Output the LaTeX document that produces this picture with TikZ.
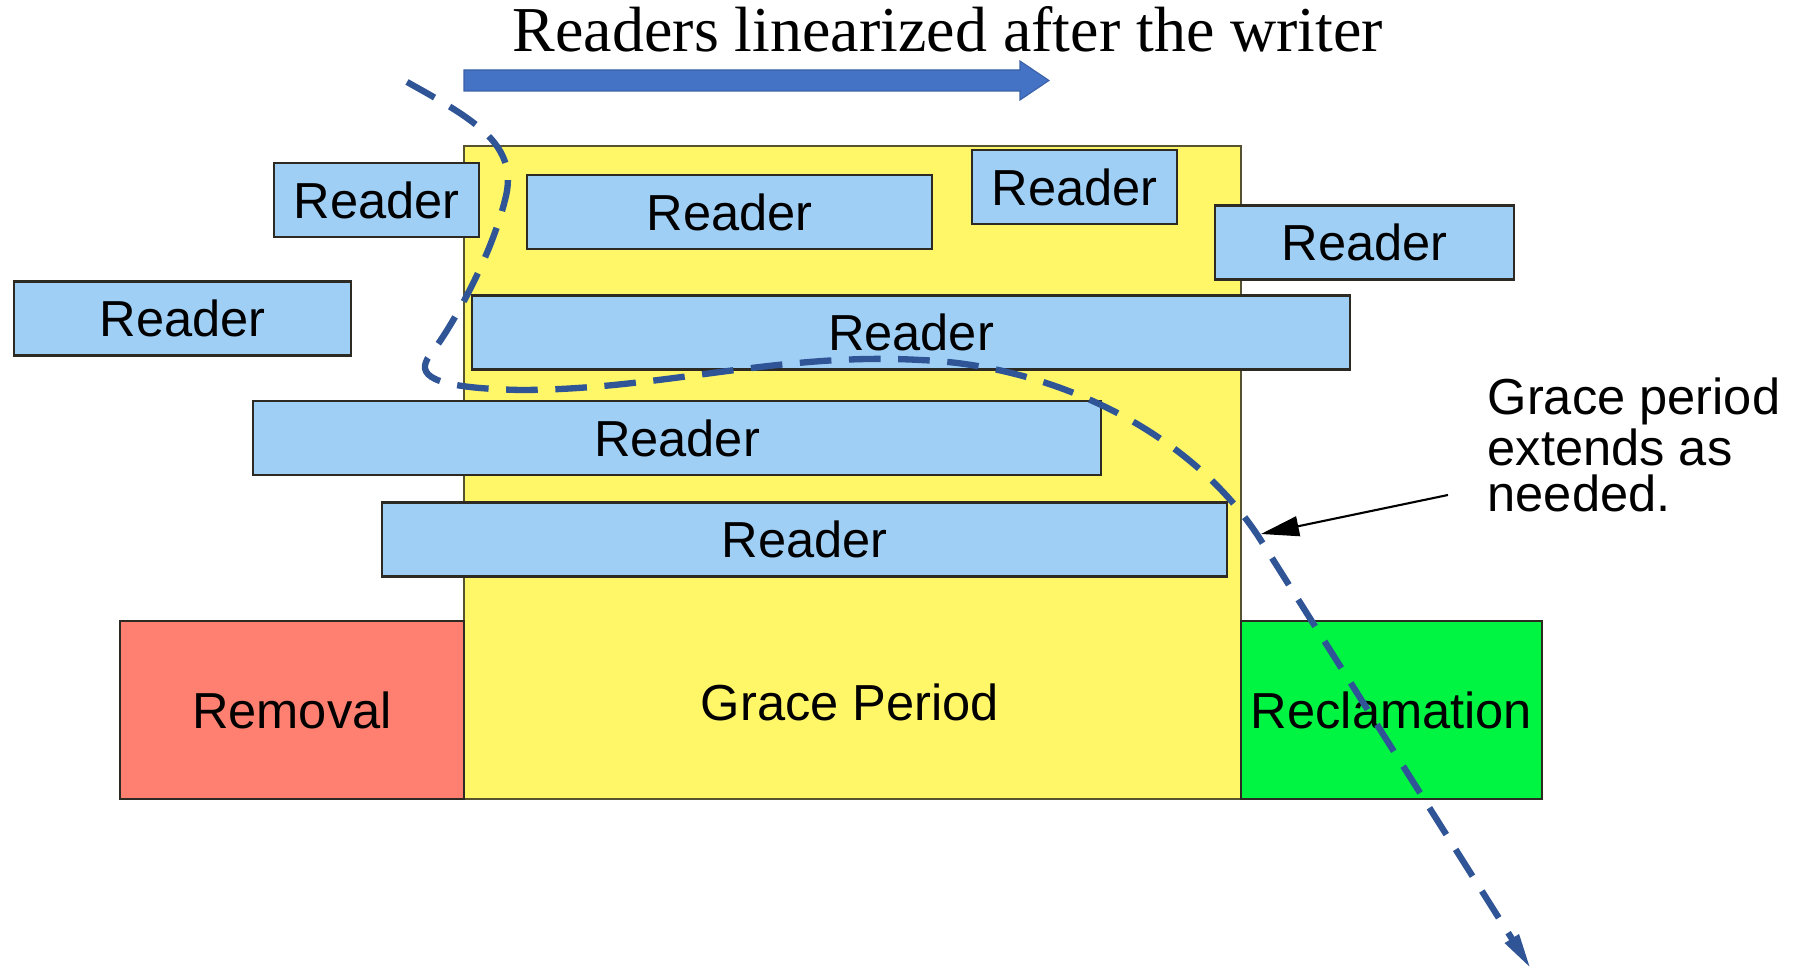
\documentclass[tikz,border=0pt]{standalone}
\usepackage{fontspec}
\setmainfont{Liberation Sans}
\newfontfamily\titlefont{Liberation Serif}
\usepackage{tikz}
\usetikzlibrary{arrows.meta, positioning}

\definecolor{gpyellow}{RGB}{255,247,104}
\definecolor{removalred}{RGB}{255,128,112}
\definecolor{reclaimgreen}{RGB}{0,245,66}
\definecolor{readerblue}{RGB}{159,207,245}
\definecolor{boxedge}{RGB}{45,42,35}
\definecolor{sepblue}{RGB}{47,85,151}
\definecolor{arrowblue}{RGB}{68,114,196}

\begin{document}
\begin{tikzpicture}[>=Stealth,
    box/.style={draw=boxedge, line width=0.8pt, inner sep=0pt, font=\fontsize{14.4}{16}\selectfont},
    reader/.style={box, fill=readerblue, minimum height=0.74cm},
    phase/.style={box, minimum height=1.78cm},
    sepline/.style={sepblue, line width=1.8pt, dash pattern=on 9pt off 5pt, -{Triangle[length=0.36cm, width=0.15cm]}},
    callout/.style={black, line width=0.6pt, -{Triangle[length=0.38cm, width=0.2cm]}}]

  % page frame
  \useasboundingbox (0,0) rectangle (17.98,-9.71);

  % title and direction arrow
  \node[anchor=base, font=\titlefont\fontsize{18.2}{20}\selectfont] (title) at (9.48,-0.52) {Readers linearized after the writer};
  \fill[arrowblue, draw=arrowblue!85!black, line width=0.3pt] (4.64,-0.70) -- (10.20,-0.70) -- (10.20,-0.61)
    -- (10.49,-0.805) -- (10.20,-1.00) -- (10.20,-0.91) -- (4.64,-0.91) -- cycle;

  % grace period with removal and reclamation
  \node[box, fill=gpyellow, draw=boxedge!80!gpyellow, minimum width=7.77cm, minimum height=6.53cm] (gp) at (8.525,-4.725) {};
  \node[font=\fontsize{14.4}{16}\selectfont] (gplabel) at (8.50,-7.02) {Grace Period};
  \node[phase, fill=removalred, minimum width=3.44cm] (removal) at (2.92,-7.10) {Removal};
  \node[phase, fill=reclaimgreen, minimum width=3.01cm] (reclaim) at (13.915,-7.10) {Reclamation};

  % readers
  \foreach \name/\x/\y/\w in {r1/3.765/-2.00/2.05, r2/7.295/-2.12/4.05, r3/10.745/-1.87/2.05,
      r4/13.645/-2.425/2.99, r5/1.825/-3.185/3.37, r6/9.11/-3.325/8.78,
      r7/6.77/-4.38/8.48, r8/8.045/-5.395/8.45}
    \node[reader, minimum width=\w cm] (\name) at (\x,\y) {Reader};

  % dashed separation between old and new readers
  \coordinate (gpend) at (12.61,-5.34);
  \draw[sepline] (4.07,-0.82) .. controls (4.75,-1.2) and (5.2,-1.45) .. (5.05,-2.0)
    .. controls (4.9,-2.6) and (4.5,-3.3) .. (4.3,-3.55)
    .. controls (4.15,-3.75) and (4.3,-3.88) .. (5.2,-3.9)
    .. controls (6.6,-3.9) and (7.8,-3.52) .. (9.2,-3.6)
    .. controls (10.5,-3.65) and (11.9,-4.3) .. (12.6,-5.39)
    -- (15.31,-9.69);

  % note on the right
  \node[anchor=north west, align=left, inner sep=0pt, font=\fontsize{14.4}{13.3}\selectfont] (note) at (14.87,-3.77)
    {Grace period\\extends as\\needed.};
  \coordinate (notetail) at (14.48,-4.95);
  \draw[callout] (notetail) -- (gpend);

\end{tikzpicture}
\end{document}
